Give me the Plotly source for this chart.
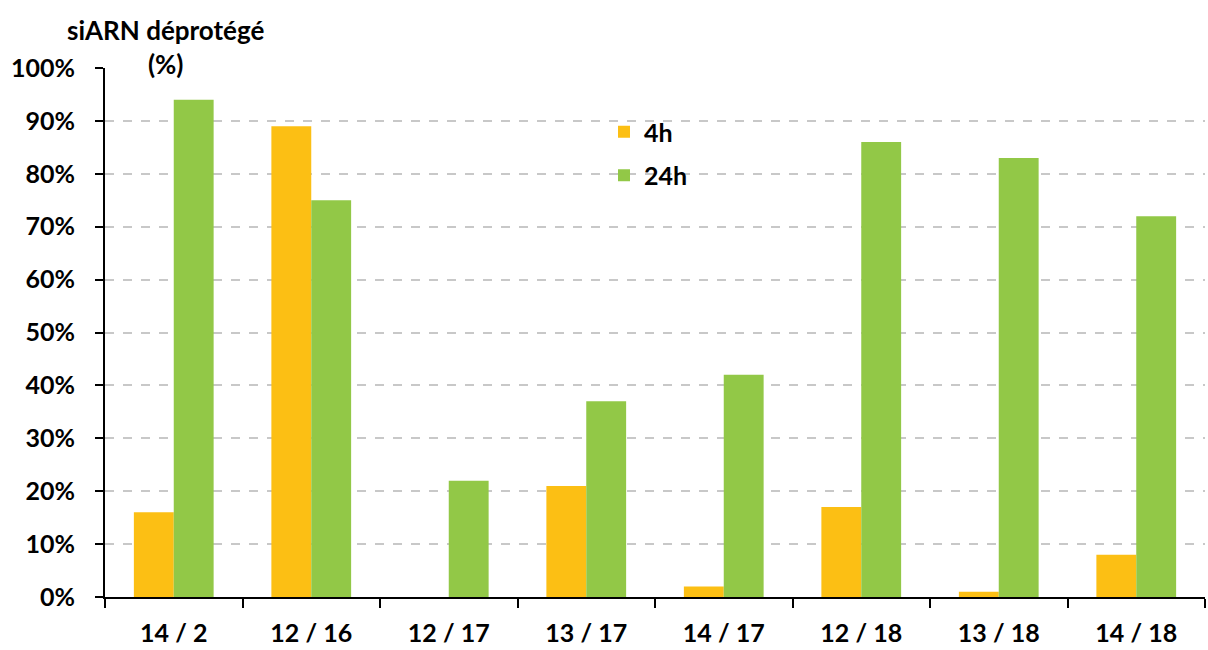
import plotly.graph_objects as go

# Pairs (guide / passenger) and share of deprotected siRNA at each time point
categories = ["14 / 2", "12 / 16", "12 / 17", "13 / 17", "14 / 17", "12 / 18", "13 / 18", "14 / 18"]
values_4h = [16, 89, 0, 21, 2, 17, 1, 8]
values_24h = [94, 75, 22, 37, 42, 86, 83, 72]
y_ticks = [0, 10, 20, 30, 40, 50, 60, 70, 80, 90, 100]

FONT = "Lato"
ORANGE = "#FCBF14"
GREEN = "#92C847"

fig = go.Figure()
fig.add_trace(go.Bar(name="4h", x=categories, y=[v / 100 for v in values_4h],
                     legendgroup="a",
                     marker=dict(color=ORANGE, line=dict(width=0))))
fig.add_trace(go.Bar(name="24h", x=categories, y=[v / 100 for v in values_24h],
                     legendgroup="b",
                     marker=dict(color=GREEN, line=dict(width=0))))

L, R, T, B = 105, 3, 68, 53
plot_w = 1208 - L - R
plot_h = 650 - T - B

fig.update_layout(
    width=1208, height=650,
    margin=dict(l=L, r=R, t=T, b=B),
    paper_bgcolor="white", plot_bgcolor="white",
    barmode="group", bargap=0.42, bargroupgap=0,
    font=dict(family=FONT, color="black", size=20),
    showlegend=True,
    legend=dict(x=(604 - L) / plot_w, y=(597 - 109) / plot_h,
                xanchor="left", yanchor="top",
                font=dict(family=FONT, size=25, color="black", weight="bold"),
                bgcolor="rgba(0,0,0,0)", tracegroupgap=8, itemwidth=30,
                traceorder="grouped"),
    xaxis=dict(
        showline=True, linecolor="black", linewidth=2,
        ticks="outside", ticklen=9, tickwidth=2, tickcolor="black",
        tickson="boundaries", ticklabelstandoff=13,
        tickfont=dict(family=FONT, size=25, weight="bold"),
        showgrid=False, fixedrange=True, automargin=False,
    ),
    yaxis=dict(
        range=[0, 1.0001], tickvals=[t / 100 for t in y_ticks],
        ticktext=[f"{t}%" for t in y_ticks],
        showline=True, linecolor="black", linewidth=2,
        ticks="outside", ticklen=8, tickwidth=2, tickcolor="black",
        ticklabelstandoff=15,
        tickfont=dict(family=FONT, size=25, weight="bold"),
        showgrid=True, gridcolor="#C8C8C8", gridwidth=2, griddash="dash",
        zeroline=False, fixedrange=True, automargin=False,
    ),
    annotations=[
        dict(text="siARN déprotégé<br>(%)",
             x=(165 - L) / plot_w, y=(597 - 47) / plot_h,
             xref="paper", yref="paper", xanchor="center", yanchor="middle",
             showarrow=False, align="center",
             font=dict(family=FONT, size=26, weight="bold")),
    ],
)

fig.write_html("out.html")
